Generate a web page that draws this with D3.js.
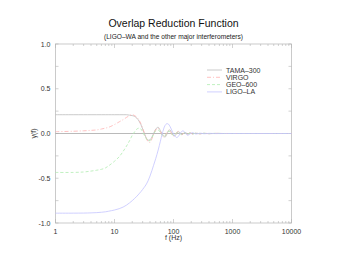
<!DOCTYPE html>
<html><head><meta charset="utf-8">
<script src="https://cdn.jsdelivr.net/npm/d3@7"></script>
<style>body{margin:0;background:#fff}svg{display:block}text{font-family:"Liberation Sans",Arial,sans-serif}</style>
</head><body><svg id="c" width="339" height="262"></svg>
<script>
const freq = [1,2,3,4,5,6,7,8,10,12,14,16,18,20,22,24,26,28,30,32,34,37,40,43,46,50,55,60,64,68,72,77,82,87,93,99,106,113,120,128,136,145,155,165,175,190,210,240,280,330,400,500,700,1000,2000,5000,10000];
const tama = [0.21,0.21,0.21,0.21,0.21,0.21,0.21,0.21,0.21,0.21,0.21,0.21,0.205,0.2,0.19,0.17,0.14,0.1,0.05,0.0,-0.04,-0.075,-0.07,-0.04,0.0,0.05,0.07,0.03,0.0,-0.03,-0.04,-0.01,0.03,0.04,0.01,-0.02,-0.025,0.0,0.02,0.01,-0.012,-0.008,0.01,0.005,-0.008,0.006,-0.005,0.004,-0.003,0.002,-0.002,0.001,0,0,0,0,0];
const virgo = [0.02,0.025,0.03,0.035,0.04,0.05,0.06,0.07,0.1,0.13,0.155,0.18,0.2,0.21,0.2,0.18,0.15,0.11,0.06,0.01,-0.04,-0.09,-0.1,-0.06,-0.01,0.04,0.06,0.02,-0.02,-0.04,-0.03,0.01,0.035,0.03,-0.005,-0.03,-0.02,0.01,0.025,0.005,-0.015,-0.005,0.012,0.0,-0.01,0.008,-0.006,0.005,-0.004,0.003,-0.002,0.001,0,0,0,0,0];
const geo = [-0.435,-0.435,-0.43,-0.42,-0.41,-0.4,-0.385,-0.36,-0.31,-0.26,-0.2,-0.14,-0.08,-0.02,0.02,0.05,0.06,0.05,0.02,-0.02,-0.05,-0.08,-0.08,-0.05,-0.01,0.03,0.04,0.01,-0.02,-0.035,-0.025,0.005,0.025,0.02,-0.005,-0.02,-0.01,0.01,0.015,0.0,-0.01,0.0,0.008,0.0,-0.006,0.004,-0.004,0.003,-0.002,0.002,-0.001,0.001,0,0,0,0,0];
const ligoLA = [-0.89,-0.89,-0.889,-0.887,-0.884,-0.88,-0.875,-0.868,-0.855,-0.84,-0.822,-0.8,-0.775,-0.75,-0.725,-0.7,-0.675,-0.65,-0.625,-0.6,-0.575,-0.53,-0.475,-0.415,-0.355,-0.28,-0.185,-0.085,-0.01,0.05,0.09,0.11,0.105,0.08,0.04,0.0,-0.03,-0.045,-0.035,-0.005,0.02,0.03,0.015,-0.01,-0.02,-0.005,0.01,-0.006,0.004,-0.003,0.002,-0.001,0,0,0,0,0];
const seriesNames = ["TAMA–300","VIRGO","GEO–600","LIGO–LA"];
const seriesData = [tama, virgo, geo, ligoLA];
const seriesColors = ["#bdbdbd","#ffb3b3","#b0ecb0","#c4c4ff"];
const seriesDash = [null,"4,2,1,2","3,2",null];
const xTicks = [1,10,100,1000,10000];
const xTickLabels = ["1","10","100","1000","10000"];
const yTicks = [-1,-0.5,0,0.5,1];
const yTickLabels = ["-1.0","-0.5","0.0","0.5","1.0"];
const titleText = "Overlap Reduction Function";
const subtitleText = "(LIGO–WA and the other major interferometers)";

const svg = d3.select("#c");
const L=55.5, R=291.5, T=44, B=223;
const x = d3.scaleLog().domain([1,10000]).range([L,R]);
const y = d3.scaleLinear().domain([-1,1]).range([B,T]);
const frame="#b4b4b4";

const minorX=[];
for(let d=1; d<10000; d*=10) for(let k=2;k<10;k++) minorX.push(d*k);
const minorY=d3.range(-1,1.001,0.25);
const g=svg.append("g");
minorX.forEach(v=>{
  g.append("line").attr("x1",x(v)).attr("x2",x(v)).attr("y1",B).attr("y2",B-2).attr("stroke",frame).attr("stroke-width",0.6);
  g.append("line").attr("x1",x(v)).attr("x2",x(v)).attr("y1",T).attr("y2",T+2).attr("stroke",frame).attr("stroke-width",0.6);
});
xTicks.forEach(v=>{
  g.append("line").attr("x1",x(v)).attr("x2",x(v)).attr("y1",B).attr("y2",B-4).attr("stroke",frame).attr("stroke-width",0.6);
  g.append("line").attr("x1",x(v)).attr("x2",x(v)).attr("y1",T).attr("y2",T+4).attr("stroke",frame).attr("stroke-width",0.6);
});
minorY.forEach(v=>{
  g.append("line").attr("x1",L).attr("x2",L+3).attr("y1",y(v)).attr("y2",y(v)).attr("stroke",frame).attr("stroke-width",0.6);
  g.append("line").attr("x1",R).attr("x2",R-3).attr("y1",y(v)).attr("y2",y(v)).attr("stroke",frame).attr("stroke-width",0.6);
});
g.append("rect").attr("x",L).attr("y",T).attr("width",R-L).attr("height",B-T).attr("fill","none").attr("stroke",frame).attr("stroke-width",0.7);

svg.append("line").attr("x1",L).attr("x2",R).attr("y1",y(0)).attr("y2",y(0)).attr("stroke","#a8a8a8").attr("stroke-width",0.8);

xTicks.forEach((v,i)=>svg.append("text").attr("x",x(v)).attr("y",B+11).attr("text-anchor","middle").attr("font-size",7).attr("fill","#333").text(xTickLabels[i]));
yTicks.forEach((v,i)=>svg.append("text").attr("x",L-5).attr("y",y(v)+2.5).attr("text-anchor","end").attr("font-size",7).attr("fill","#333").text(yTickLabels[i]));

const line=d3.line().x((d,i)=>x(freq[i])).y(d=>y(d)).curve(d3.curveCatmullRom.alpha(0.5));
seriesData.forEach((s,k)=>{
  const p=svg.append("path").datum(s).attr("d",line).attr("fill","none").attr("stroke",seriesColors[k]).attr("stroke-width",0.8);
  if(seriesDash[k]) p.attr("stroke-dasharray",seriesDash[k]);
});

const legY=[70,77.3,84.6,91.9];
seriesNames.forEach((n,k)=>{
  const l=svg.append("line").attr("x1",207).attr("x2",222).attr("y1",legY[k]).attr("y2",legY[k]).attr("stroke",seriesColors[k]).attr("stroke-width",0.8);
  if(seriesDash[k]) l.attr("stroke-dasharray",seriesDash[k]);
  svg.append("text").attr("x",226).attr("y",legY[k]+2.5).attr("font-size",7).attr("fill","#333").text(n);
});

svg.append("text").attr("x",173.5).attr("y",27).attr("text-anchor","middle").attr("font-size",10.5).attr("fill","#111").text(titleText);
svg.append("text").attr("x",173.5).attr("y",39).attr("text-anchor","middle").attr("font-size",6.6).attr("fill","#222").text(subtitleText);
svg.append("text").attr("x",173.5).attr("y",240).attr("text-anchor","middle").attr("font-size",7).attr("fill","#333").text("f (Hz)");
svg.append("text").attr("transform","translate(36,133.5) rotate(-90)").attr("text-anchor","middle").attr("font-size",7).attr("fill","#333").text("γ(f)");
</script></body></html>
